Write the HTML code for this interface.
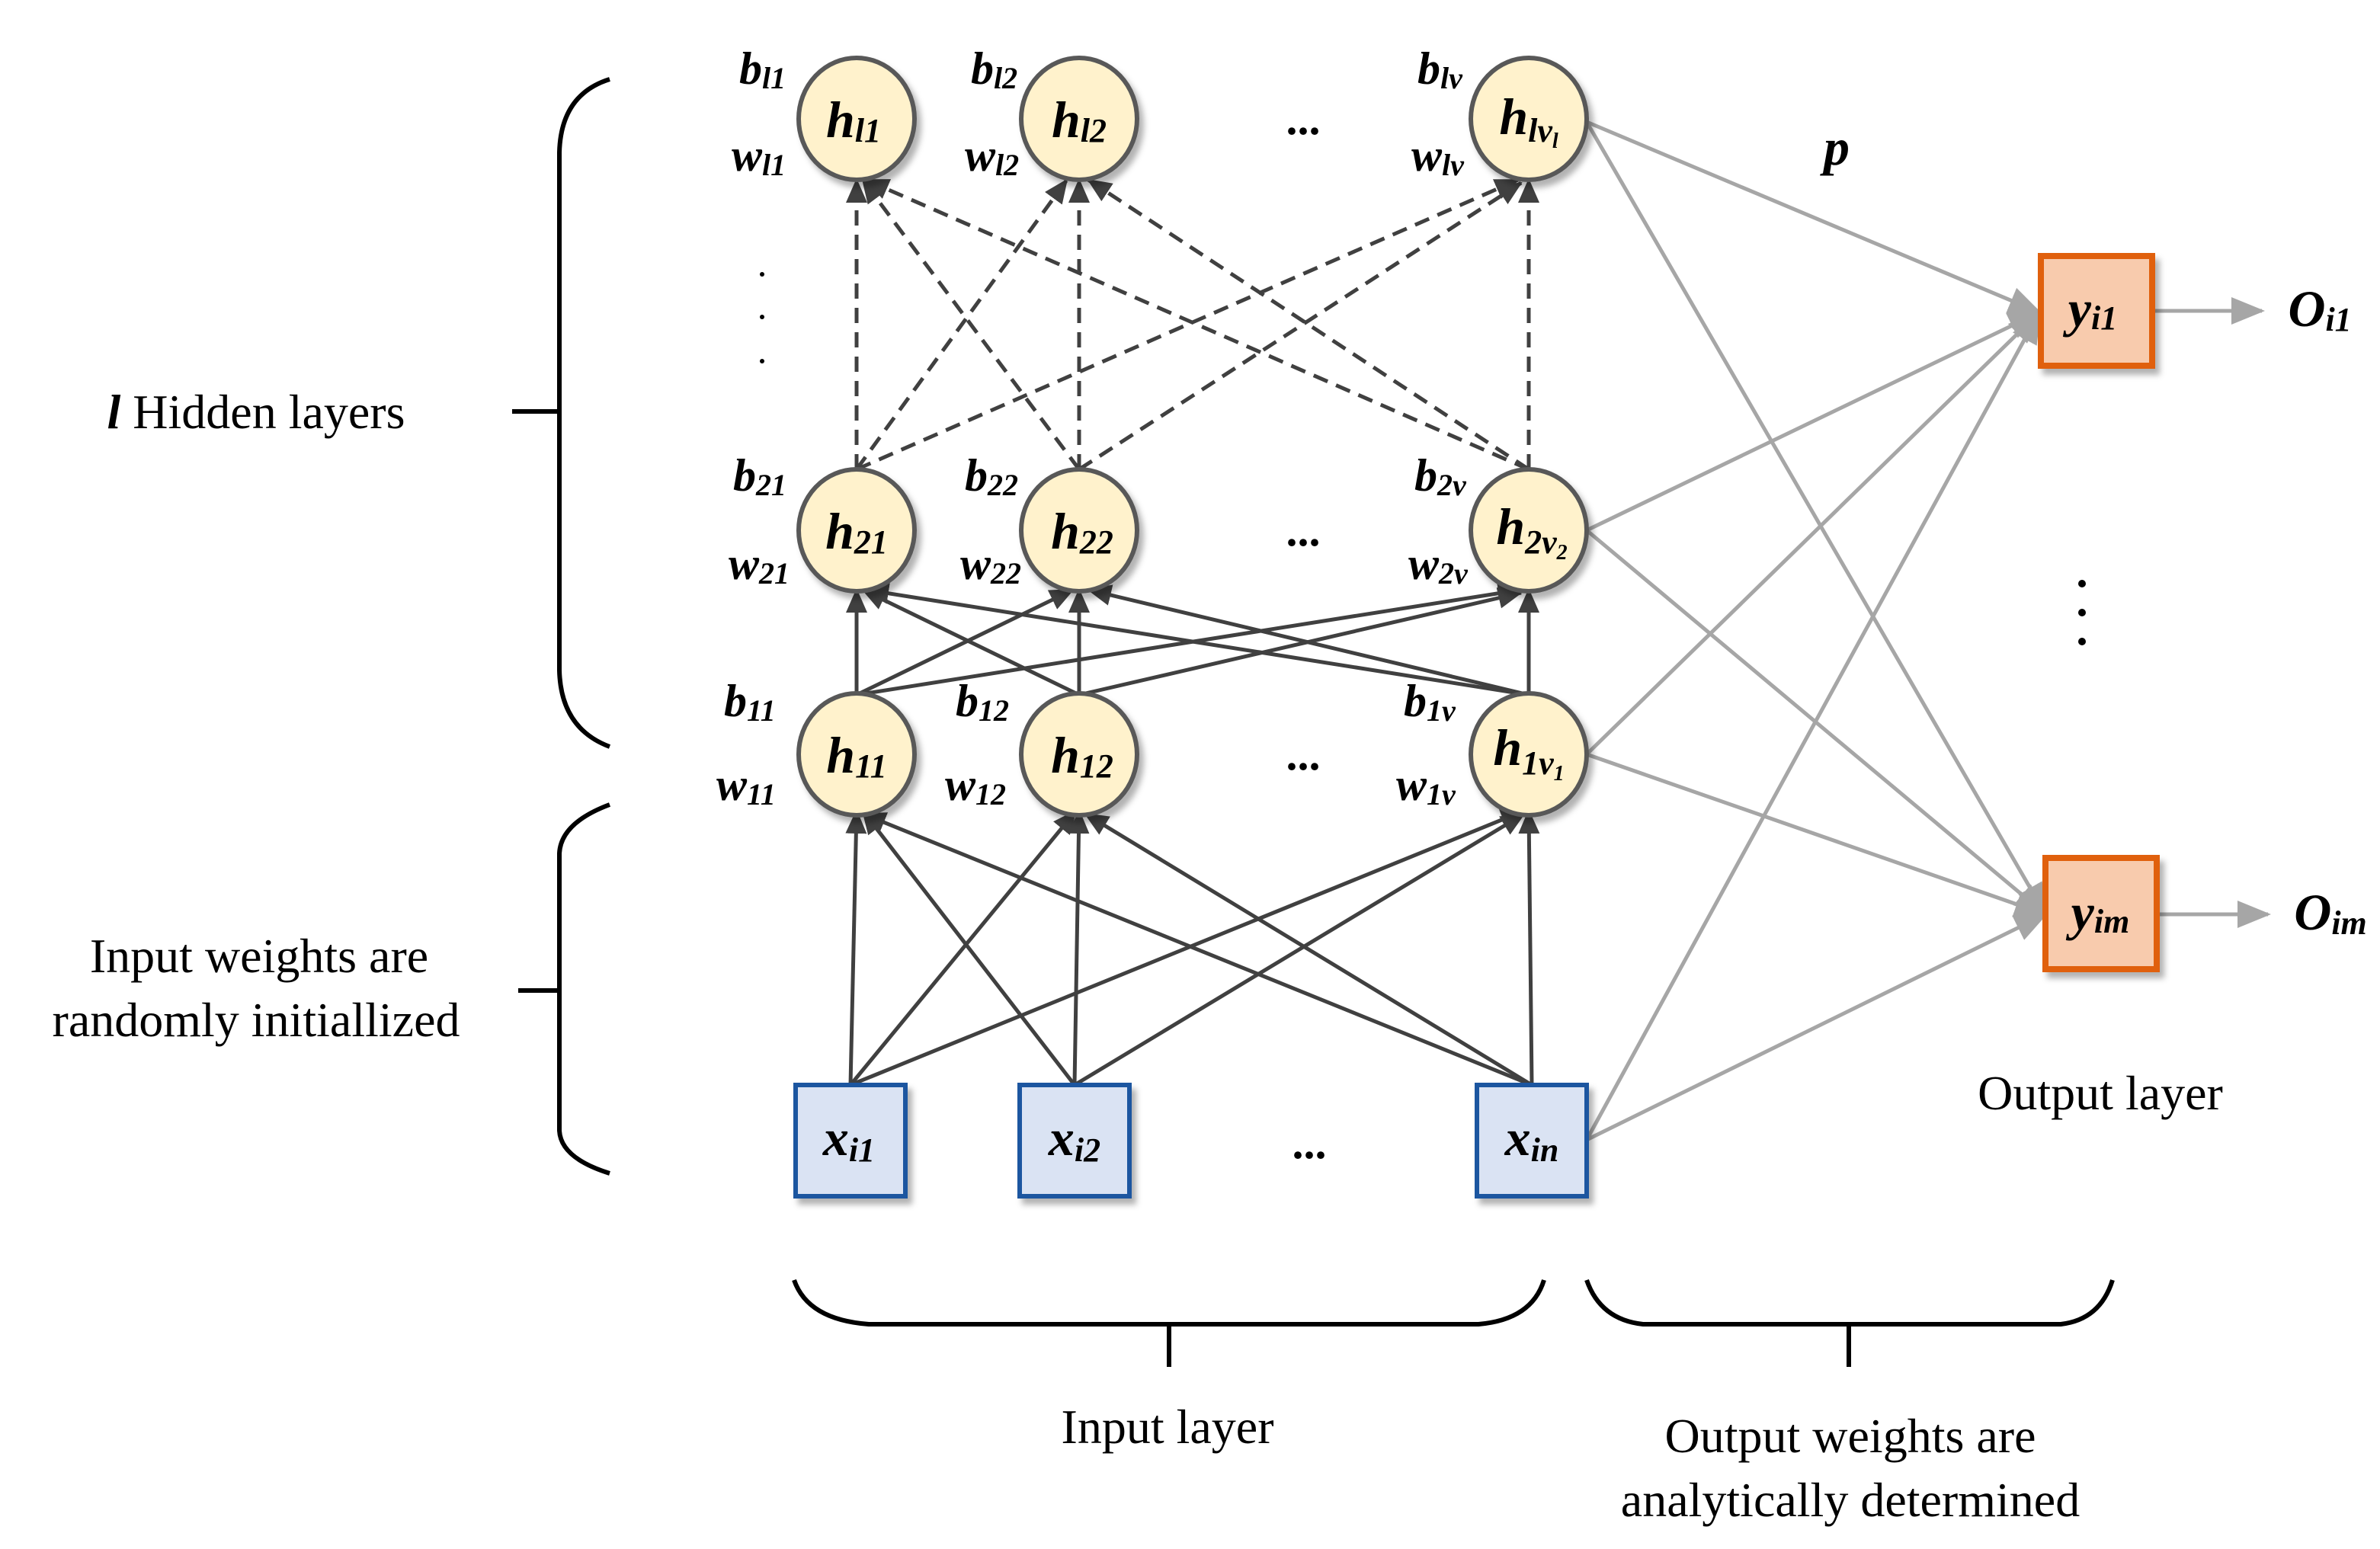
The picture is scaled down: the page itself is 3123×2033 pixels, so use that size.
<!DOCTYPE html>
<html><head><meta charset="utf-8"><style>
html,body{margin:0;padding:0;background:#fff;}
svg{display:block;font-family:"Liberation Serif","Times New Roman",serif;}
svg text{font-family:"Liberation Serif","Times New Roman",serif;}
</style></head><body>
<svg width="3123" height="2033" viewBox="0 0 1561.5 1016.5" xmlns="http://www.w3.org/2000/svg" font-family="Liberation Serif, serif">
<defs>
<marker id="ag" markerWidth="22" markerHeight="18" refX="20" refY="9" orient="auto" markerUnits="userSpaceOnUse"><path d="M0,0 L22,9 L0,18 z" fill="#a6a6a6"/></marker>
<marker id="ad2" markerWidth="16" markerHeight="14" refX="15" refY="7" orient="auto" markerUnits="userSpaceOnUse"><path d="M0,0 L16,7 L0,14 z" fill="#404040"/></marker>
<filter id="sh" x="-20%" y="-20%" width="150%" height="150%"><feDropShadow dx="3" dy="4" stdDeviation="2" flood-color="#000" flood-opacity="0.3"/></filter>
</defs>

<g stroke="#a6a6a6" stroke-width="2.5" fill="none" marker-end="url(#ag)">
<line x1="1041" y1="80" x2="1338" y2="205"/>
<line x1="1041" y1="348" x2="1338" y2="205"/>
<line x1="1041" y1="495" x2="1338" y2="205"/>
<line x1="1041" y1="748" x2="1338" y2="205"/>
<line x1="1041" y1="80" x2="1342" y2="600"/>
<line x1="1041" y1="348" x2="1342" y2="600"/>
<line x1="1041" y1="495" x2="1342" y2="600"/>
<line x1="1041" y1="748" x2="1342" y2="600"/>
<line x1="1412" y1="204" x2="1484" y2="204"/>
<line x1="1416" y1="600" x2="1488" y2="600"/>
</g>

<g stroke="#404040" stroke-width="2.5" marker-end="url(#ad2)">
<line x1="558" y1="712" x2="562" y2="532"/>
<line x1="558" y1="712" x2="706" y2="532"/>
<line x1="558" y1="712" x2="1000" y2="532"/>
<line x1="705" y1="712" x2="566" y2="532"/>
<line x1="705" y1="712" x2="708" y2="532"/>
<line x1="705" y1="712" x2="1000" y2="534"/>
<line x1="1005" y1="712" x2="566" y2="534"/>
<line x1="1005" y1="712" x2="712" y2="534"/>
<line x1="1005" y1="712" x2="1003" y2="532"/>
</g>
<g stroke="#404040" stroke-width="2.5" marker-end="url(#ad2)">
<line x1="562" y1="456" x2="562" y2="387"/>
<line x1="562" y1="456" x2="704" y2="387"/>
<line x1="562" y1="456" x2="998" y2="387"/>
<line x1="708" y1="456" x2="566" y2="387"/>
<line x1="708" y1="456" x2="708" y2="387"/>
<line x1="708" y1="456" x2="998" y2="389"/>
<line x1="1003" y1="456" x2="568" y2="387"/>
<line x1="1003" y1="456" x2="714" y2="387"/>
<line x1="1003" y1="456" x2="1003" y2="387"/>
</g>
<g stroke="#404040" stroke-width="2.5" stroke-dasharray="10,6" marker-end="url(#ad2)">
<line x1="562" y1="308" x2="562" y2="118"/>
<line x1="562" y1="308" x2="700" y2="118"/>
<line x1="562" y1="308" x2="996" y2="118"/>
<line x1="708" y1="308" x2="566" y2="118"/>
<line x1="708" y1="308" x2="708" y2="118"/>
<line x1="708" y1="308" x2="998" y2="120"/>
<line x1="1003" y1="308" x2="568" y2="118"/>
<line x1="1003" y1="308" x2="714" y2="118"/>
<line x1="1003" y1="308" x2="1003" y2="118"/>
</g>

<g fill="#fff2cc" stroke="#595959" stroke-width="3" filter="url(#sh)">
<ellipse cx="562" cy="78" rx="38" ry="40"/>
<ellipse cx="708" cy="78" rx="38" ry="40"/>
<ellipse cx="1003" cy="78" rx="38" ry="40"/>
<ellipse cx="562" cy="348" rx="38" ry="40"/>
<ellipse cx="708" cy="348" rx="38" ry="40"/>
<ellipse cx="1003" cy="348" rx="38" ry="40"/>
<ellipse cx="562" cy="495" rx="38" ry="40"/>
<ellipse cx="708" cy="495" rx="38" ry="40"/>
<ellipse cx="1003" cy="495" rx="38" ry="40"/>
</g>

<g fill="#dae3f3" stroke="#1f56a0" stroke-width="3" filter="url(#sh)">
<rect x="522" y="712" width="72" height="73"/>
<rect x="669" y="712" width="72" height="73"/>
<rect x="969" y="712" width="72" height="73"/>
</g>
<g fill="#f8cbad" stroke="#e06010" stroke-width="4" filter="url(#sh)">
<rect x="1339" y="168" width="73" height="72"/>
<rect x="1342" y="563" width="73" height="73"/>
</g>

<g font-family="Liberation Serif, serif" font-style="italic" font-weight="bold" font-size="34" fill="#000" text-anchor="middle">
<text x="560" y="90">h<tspan font-size="22" dy="3">l1</tspan></text>
<text x="708" y="90">h<tspan font-size="22" dy="3">l2</tspan></text>
<text x="1003" y="88">h<tspan font-size="22" dy="5">lv</tspan><tspan font-size="14" dy="4">l</tspan></text>
<text x="562" y="360">h<tspan font-size="22" dy="3">21</tspan></text>
<text x="710" y="360">h<tspan font-size="22" dy="3">22</tspan></text>
<text x="1005" y="357">h<tspan font-size="22" dy="6">2v</tspan><tspan font-size="14" dy="4">2</tspan></text>
<text x="562" y="507">h<tspan font-size="22" dy="3">11</tspan></text>
<text x="710" y="507">h<tspan font-size="22" dy="3">12</tspan></text>
<text x="1003" y="502">h<tspan font-size="22" dy="6">1v</tspan><tspan font-size="14" dy="4">1</tspan></text>
<text x="557" y="758">x<tspan font-size="22" dy="4">i1</tspan></text>
<text x="705" y="758">x<tspan font-size="22" dy="4">i2</tspan></text>
<text x="1005" y="758">x<tspan font-size="22" dy="4">in</tspan></text>
<text x="1373" y="214">y<tspan font-size="22" dy="2">i1</tspan></text>
<text x="1378" y="610">y<tspan font-size="22" dy="2">im</tspan></text>
<text x="1522" y="214">O<tspan font-size="22" dy="3">i1</tspan></text>
<text x="1529" y="610">O<tspan font-size="22" dy="3">im</tspan></text>
<text x="1205" y="108">p</text>
</g>

<g font-family="Liberation Serif, serif" font-style="italic" font-weight="bold" font-size="30" fill="#000">
<text x="485" y="55">b<tspan font-size="20" dy="3">l1</tspan></text>
<text x="480" y="112">w<tspan font-size="20" dy="3">l1</tspan></text>
<text x="637" y="55">b<tspan font-size="20" dy="3">l2</tspan></text>
<text x="633" y="112">w<tspan font-size="20" dy="3">l2</tspan></text>
<text x="930" y="55">b<tspan font-size="20" dy="3">lv</tspan></text>
<text x="926" y="112">w<tspan font-size="20" dy="3">lv</tspan></text>
<text x="481" y="322">b<tspan font-size="20" dy="3">21</tspan></text>
<text x="478" y="380">w<tspan font-size="20" dy="3">21</tspan></text>
<text x="633" y="322">b<tspan font-size="20" dy="3">22</tspan></text>
<text x="630" y="380">w<tspan font-size="20" dy="3">22</tspan></text>
<text x="928" y="322">b<tspan font-size="20" dy="3">2v</tspan></text>
<text x="924" y="380">w<tspan font-size="20" dy="3">2v</tspan></text>
<text x="475" y="470">b<tspan font-size="20" dy="3">11</tspan></text>
<text x="470" y="525">w<tspan font-size="20" dy="3">11</tspan></text>
<text x="627" y="470">b<tspan font-size="20" dy="3">12</tspan></text>
<text x="620" y="525">w<tspan font-size="20" dy="3">12</tspan></text>
<text x="921" y="470">b<tspan font-size="20" dy="3">1v</tspan></text>
<text x="916" y="525">w<tspan font-size="20" dy="3">1v</tspan></text>
</g>

<g font-family="Liberation Serif, serif" font-size="30" font-weight="bold" fill="#000" text-anchor="middle">
<text x="855" y="88">...</text>
<text x="855" y="358">...</text>
<text x="855" y="505">...</text>
<text x="859" y="760">...</text>
</g>
<g fill="#000">
<circle cx="500" cy="180" r="1.5"/><circle cx="500" cy="208" r="1.5"/><circle cx="500" cy="237" r="1.5"/>
<circle cx="1366" cy="383" r="2.5"/><circle cx="1366" cy="402" r="2.5"/><circle cx="1366" cy="421" r="2.5"/>
</g>

<g stroke="#000" stroke-width="3" fill="none">
<path d="M400,52 Q368,62 367,100 L367,440 Q368,478 400,490"/>
<line x1="336" y1="270" x2="367" y2="270"/>
<path d="M400,528 Q368,540 367,560 L367,742 Q368,760 400,770"/>
<line x1="340" y1="650" x2="367" y2="650"/>
<path d="M521,840 Q530,866 570,869 L970,869 Q1005,866 1013,840"/>
<line x1="767" y1="869" x2="767" y2="897"/>
<path d="M1041,840 Q1050,866 1078,869 L1352,869 Q1378,866 1386,840"/>
<line x1="1213" y1="869" x2="1213" y2="897"/>
</g>

<g font-family="Liberation Serif, serif" font-size="32" fill="#000" text-anchor="middle">
<text x="168" y="281"><tspan font-style="italic" font-weight="bold">l</tspan> Hidden layers</text>
<text x="170" y="638">Input weights are</text>
<text x="168" y="680">randomly initiallized</text>
<text x="1378" y="728">Output layer</text>
<text x="766" y="947">Input layer</text>
<text x="1214" y="953">Output weights are</text>
<text x="1214" y="995">analytically determined</text>
</g>
</svg>
</body></html>
